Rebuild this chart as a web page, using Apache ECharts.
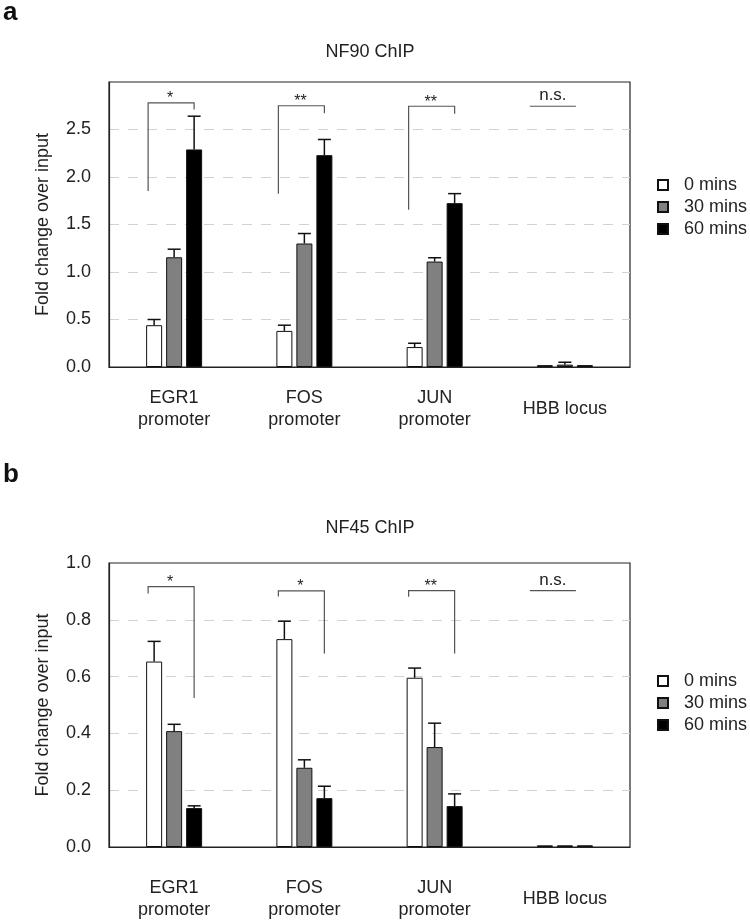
<!DOCTYPE html>
<html>
<head>
<meta charset="utf-8">
<script src="https://cdn.jsdelivr.net/npm/echarts@6/dist/echarts.min.js"></script>
<style>
html,body{margin:0;padding:0;background:#fff;}
#chart{width:750px;height:923px;}
</style>
</head>
<body>
<div id="chart"></div>
<script>
// ---- data ----
const categories = ['EGR1\npromoter', 'FOS\npromoter', 'JUN\npromoter', 'HBB locus'];
const seriesNames = ['0 mins', '30 mins', '60 mins'];

// Panel a: NF90 ChIP
const nf90_0 = [0.44, 0.38, 0.21, 0.02];
const nf90_0_err = [0.06, 0.06, 0.04, 0];
const nf90_30 = [1.155, 1.30, 1.11, 0.025];
const nf90_30_err = [0.085, 0.105, 0.04, 0.025];
const nf90_60 = [2.29, 2.23, 1.725, 0.02];
const nf90_60_err = [0.35, 0.165, 0.10, 0];
const nf90_ticks = [0, 0.5, 1.0, 1.5, 2.0, 2.5, 3.0];
const nf90_sigTop = [2.78, 2.75, 2.745, 2.745];
const nf90_sigLeft = [1.853, 1.825, 1.654, null];
const nf90_sigRight = [2.71, 2.67, 2.667, null];
const nf90_sigLabels = ['*', '**', '**', 'n.s.'];

// Panel b: NF45 ChIP
const nf45_0 = [0.653, 0.732, 0.596, 0.006];
const nf45_0_err = [0.071, 0.063, 0.034, 0];
const nf45_30 = [0.408, 0.279, 0.352, 0.006];
const nf45_30_err = [0.024, 0.028, 0.084, 0];
const nf45_60 = [0.137, 0.172, 0.144, 0.006];
const nf45_60_err = [0.008, 0.042, 0.043, 0];
const nf45_ticks = [0, 0.2, 0.4, 0.6, 0.8, 1.0];
const nf45_sigTop = [0.917, 0.902, 0.903, 0.903];
const nf45_sigLeft = [0.893, 0.882, 0.881, null];
const nf45_sigRight = [0.525, 0.681, 0.681, null];
const nf45_sigLabels = ['*', '*', '**', 'n.s.'];

// ---- styling ----
const FONT = "'Liberation Sans', Arial, Helvetica, sans-serif";
const TXT = '#222';
const FS = 18;
const barColors = ['#ffffff', '#808080', '#000000'];
const barOffsets = [-20, 0, 20];

const chart = echarts.init(document.getElementById('chart'), null, {renderer: 'canvas'});

function barSeries(name, vals, idx, ci) {
  return {
    type: 'bar', name: name, xAxisIndex: idx, yAxisIndex: idx, data: vals,
    barWidth: 16, barGap: '25%', silent: true,
    itemStyle: {color: barColors[ci], borderColor: '#111', borderWidth: 1}
  };
}

function errSeries(vals, errs, ci, idx) {
  return {
    type: 'custom', xAxisIndex: idx, yAxisIndex: idx, z: 5, silent: true,
    data: vals.map((v, i) => [i, v, errs[i]]),
    encode: {x: 0, y: 1},
    renderItem: function (params, api) {
      const i = api.value(0), v = api.value(1), e = api.value(2);
      if (!(e > 0)) return null;
      const b = api.coord([i, v]);
      const t = api.coord([i, v + e]);
      const x = b[0] + barOffsets[ci];
      const st = {stroke: '#111', lineWidth: 1.5};
      return {type: 'group', children: [
        {type: 'line', shape: {x1: x, y1: b[1], x2: x, y2: t[1]}, style: st},
        {type: 'line', shape: {x1: x - 6.5, y1: t[1], x2: x + 6.5, y2: t[1]}, style: st}
      ]};
    }
  };
}

function sigSeries(tops, lefts, rights, labels, idx) {
  return {
    type: 'custom', xAxisIndex: idx, yAxisIndex: idx, z: 6, silent: true,
    data: tops.map((t, i) => [i, t, lefts[i] == null ? '-' : lefts[i], rights[i] == null ? '-' : rights[i]]),
    encode: {x: 0, y: 1},
    renderItem: function (params, api) {
      const i = api.value(0);
      const top = api.coord([i, api.value(1)]);
      const lv = api.value(2), rv = api.value(3);
      const lab = labels[params.dataIndex];
      const st = {stroke: '#555', lineWidth: 1.2};
      const children = [];
      if (lab === 'n.s.') {
        const xl = top[0] - 35, xr = top[0] + 11;
        children.push({type: 'line', shape: {x1: xl, y1: top[1], x2: xr, y2: top[1]}, style: st});
        children.push({type: 'text', style: {text: lab, x: (xl + xr) / 2, y: top[1] - 2, align: 'center', verticalAlign: 'bottom', fontSize: 17, fontFamily: FONT, fill: TXT}});
      } else {
        const xl = top[0] - 26, xr = top[0] + 20;
        const yl = api.coord([i, lv])[1];
        const yr = api.coord([i, rv])[1];
        children.push({type: 'polyline', shape: {points: [[xl, yl], [xl, top[1]], [xr, top[1]], [xr, yr]]}, style: Object.assign({fill: null}, st)});
        children.push({type: 'text', style: {text: lab, x: (xl + xr) / 2 - 1, y: top[1] - 4, align: 'center', verticalAlign: 'middle', fontSize: 16, fontFamily: FONT, fill: TXT}});
      }
      return {type: 'group', children: children};
    }
  };
}

function xAxisCfg(idx, margin) {
  return {
    type: 'category', gridIndex: idx, data: categories,
    axisTick: {show: false},
    axisLine: {show: true, lineStyle: {color: '#222', width: 1.2}},
    axisLabel: {interval: 0, fontSize: FS, color: TXT, fontFamily: FONT, lineHeight: 22, verticalAlign: 'middle', margin: margin},
    splitLine: {show: false}
  };
}

function yAxisCfg(idx, ticks) {
  const step = ticks[1] - ticks[0];
  const maxV = ticks[ticks.length - 1];
  return {
    type: 'value', gridIndex: idx, min: ticks[0], max: maxV, interval: step,
    name: 'Fold change over input', nameLocation: 'middle', nameGap: 57,
    nameTextStyle: {fontSize: FS, color: TXT, fontFamily: FONT},
    axisLine: {show: true, lineStyle: {color: '#222', width: 1.2}},
    axisTick: {show: false},
    axisLabel: {
      fontSize: FS, color: TXT, fontFamily: FONT, margin: 18, padding: [0, 0, 6, 0],
      formatter: function (v) {
        const hasLabel = ticks.some(t => Math.abs(t - v) < 1e-9) && !(idx === 0 && Math.abs(v - maxV) < 1e-9);
        return hasLabel ? v.toFixed(1) : '';
      }
    },
    splitLine: {show: true, showMinLine: false, showMaxLine: false, lineStyle: {color: '#d2d2d2', type: [10, 9], width: 1.2}}
  };
}

function legendCfg(top) {
  return {
    orient: 'vertical', left: 657, top: top, padding: 0,
    itemWidth: 10, itemHeight: 10, itemGap: 4, icon: 'rect',
    data: seriesNames, selectedMode: false,
    textStyle: {fontSize: FS, color: TXT, fontFamily: FONT, lineHeight: 18, padding: [0, 0, 0, 11]}
  };
}

const option = {
  backgroundColor: '#fff',
  animation: false,
  textStyle: {fontFamily: FONT},
  title: [
    {text: 'a', left: 3, top: 0, padding: 0, textStyle: {fontSize: 26, fontWeight: 'bold', color: '#111', fontFamily: FONT}},
    {text: 'NF90 ChIP', left: 370, textAlign: 'center', top: 43, padding: 0, textStyle: {fontSize: FS, fontWeight: 'normal', color: TXT, fontFamily: FONT}},
    {text: 'b', left: 3, top: 462, padding: 0, textStyle: {fontSize: 26, fontWeight: 'bold', color: '#111', fontFamily: FONT}},
    {text: 'NF45 ChIP', left: 370, textAlign: 'center', top: 519, padding: 0, textStyle: {fontSize: FS, fontWeight: 'normal', color: TXT, fontFamily: FONT}}
  ],
  legend: [legendCfg(176), legendCfg(672)],
  grid: [
    {left: 109, top: 82, width: 521, height: 285, show: true, borderColor: '#222', borderWidth: 1.2, containLabel: false, outerBoundsMode: 'none'},
    {left: 109, top: 563, width: 521, height: 284, show: true, borderColor: '#222', borderWidth: 1.2, containLabel: false, outerBoundsMode: 'none'}
  ],
  xAxis: [xAxisCfg(0, 42), xAxisCfg(1, 52)],
  yAxis: [yAxisCfg(0, nf90_ticks), yAxisCfg(1, nf45_ticks)],
  series: [
    barSeries(seriesNames[0], nf90_0, 0, 0),
    barSeries(seriesNames[1], nf90_30, 0, 1),
    barSeries(seriesNames[2], nf90_60, 0, 2),
    errSeries(nf90_0, nf90_0_err, 0, 0),
    errSeries(nf90_30, nf90_30_err, 1, 0),
    errSeries(nf90_60, nf90_60_err, 2, 0),
    sigSeries(nf90_sigTop, nf90_sigLeft, nf90_sigRight, nf90_sigLabels, 0),
    barSeries(seriesNames[0], nf45_0, 1, 0),
    barSeries(seriesNames[1], nf45_30, 1, 1),
    barSeries(seriesNames[2], nf45_60, 1, 2),
    errSeries(nf45_0, nf45_0_err, 0, 1),
    errSeries(nf45_30, nf45_30_err, 1, 1),
    errSeries(nf45_60, nf45_60_err, 2, 1),
    sigSeries(nf45_sigTop, nf45_sigLeft, nf45_sigRight, nf45_sigLabels, 1)
  ]
};
chart.setOption(option);
</script>
</body>
</html>
